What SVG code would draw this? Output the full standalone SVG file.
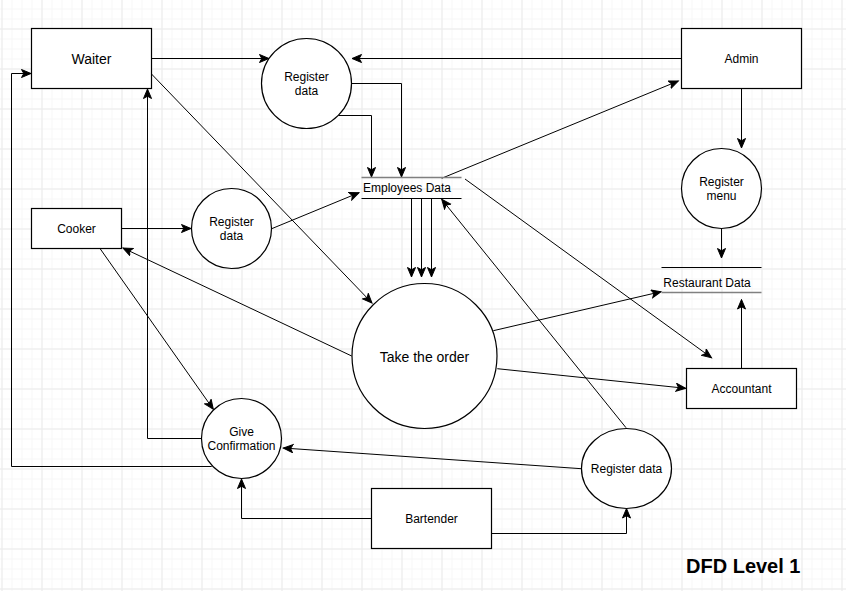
<svg xmlns="http://www.w3.org/2000/svg" width="846" height="591" viewBox="0 0 846 591">
<defs>
<pattern id="minor" x="1.5" y="8.5" width="10" height="10" patternUnits="userSpaceOnUse"><path d="M10 0.5 H0.5 V10" fill="none" stroke="#f6f6f6" stroke-width="1"/></pattern>
<pattern id="major" x="1.5" y="28.5" width="40" height="40" patternUnits="userSpaceOnUse"><path d="M40 0.5 H0.5 V40" fill="none" stroke="#ebebeb" stroke-width="1"/></pattern>
<marker id="arr" markerWidth="12" markerHeight="10" refX="10" refY="4.5" orient="auto" markerUnits="userSpaceOnUse"><path d="M0.5,0.5 L10,4.5 L0.5,8.5 L2.8,4.5 Z" fill="#000" stroke="#000" stroke-width="1" stroke-linejoin="miter"/></marker>
<style>
.ln{fill:none;stroke:#000;stroke-width:1;marker-end:url(#arr)}
.nd{fill:#fff;stroke:#000;stroke-width:1.2}
.t{font-family:"Liberation Sans",Arial,sans-serif;font-size:12px;fill:#000;text-anchor:middle}
.big{font-size:14px}
.st{stroke:#000;stroke-width:1}
.sg{stroke:#808080;stroke-width:1.6}
</style>
</defs>
<rect width="846" height="591" fill="#fff"/>
<rect width="846" height="591" fill="url(#minor)"/>
<rect width="846" height="591" fill="url(#major)"/>

<g id="connectors">
<path class="ln" d="M151.5,58.5 H269"/>
<path class="ln" d="M681.5,58.5 H352"/>
<path class="ln" d="M351.5,83.5 H401.5 V177"/>
<path class="ln" d="M338.5,115.5 H371.5 V177"/>
<path class="ln" d="M121.5,228.5 H191"/>
<path class="ln" d="M271.7,228.7 L359,192.7"/>
<path class="ln" d="M151.5,74 L372,303"/>
<path class="ln" d="M411.5,198.5 V277"/>
<path class="ln" d="M421.5,198.5 V277"/>
<path class="ln" d="M431.5,198.5 V277"/>
<path class="ln" d="M351.7,356 L123,248"/>
<path class="ln" d="M100,248.5 L213.3,409.3"/>
<path class="ln" d="M201.7,438.5 H147.5 V89"/>
<path class="ln" d="M211.7,466.5 H11.5 V73.5 H31"/>
<path class="ln" d="M371.5,518.5 H241.5 V479"/>
<path class="ln" d="M491.5,533.5 H626.5 V508.5"/>
<path class="ln" d="M581.3,468.7 L283.3,448"/>
<path class="ln" d="M626,427.7 L441.7,199.3"/>
<path class="ln" d="M441.7,178.3 L678.3,81"/>
<path class="ln" d="M465,179 L711.5,357.7"/>
<path class="ln" d="M493.3,330.7 L661,291.7"/>
<path class="ln" d="M497.3,368.7 L685.7,388.3"/>
<path class="ln" d="M741.5,368.5 V299.5"/>
<path class="ln" d="M741.5,88.5 V148"/>
<path class="ln" d="M721.5,228.5 V258"/>
</g>

<g id="waiter"><rect class="nd" x="31.5" y="28.5" width="120" height="60"/><text class="t big" x="91.5" y="63.5">Waiter</text></g>
<g id="register-data-top"><circle class="nd" cx="306.5" cy="83.5" r="45"/><text class="t" x="306.5" y="81">Register</text><text class="t" x="306.5" y="95">data</text></g>
<g id="admin"><rect class="nd" x="681.5" y="28.5" width="120" height="60"/><text class="t" x="741.5" y="62.5">Admin</text></g>
<g id="cooker"><rect class="nd" x="31.5" y="208.5" width="90" height="40"/><text class="t" x="76.5" y="232.5">Cooker</text></g>
<g id="register-data-mid"><circle class="nd" cx="231.5" cy="228.5" r="40"/><text class="t" x="231.5" y="225.7">Register</text><text class="t" x="231.5" y="239.7">data</text></g>
<g id="employees-data"><line class="sg" x1="361.5" y1="177.5" x2="461.5" y2="177.5"/><line class="st" x1="361.5" y1="198.5" x2="461.5" y2="198.5"/><text class="t" x="363" y="191.5" style="text-anchor:start">Employees Data</text></g>
<g id="register-menu"><circle class="nd" cx="721.5" cy="188.5" r="40"/><text class="t" x="721.5" y="185.7">Register</text><text class="t" x="721.5" y="199.7">menu</text></g>
<g id="restaurant-data"><line class="st" x1="661.5" y1="267.5" x2="761.5" y2="267.5"/><line class="sg" x1="661.5" y1="292.5" x2="761.5" y2="292.5"/><text class="t" x="663.3" y="286.5" style="text-anchor:start">Restaurant Data</text></g>
<g id="take-order"><circle class="nd" cx="424.5" cy="356" r="72.5"/><text class="t big" x="424.5" y="362">Take the order</text></g>
<g id="accountant"><rect class="nd" x="686.5" y="368.5" width="110" height="40"/><text class="t" x="741.5" y="392.5">Accountant</text></g>
<g id="give-confirmation"><circle class="nd" cx="241.5" cy="438.5" r="40"/><text class="t" x="241.5" y="435.7">Give</text><text class="t" x="241.5" y="449.7">Confirmation</text></g>
<g id="register-data-bottom"><ellipse class="nd" cx="626.5" cy="468.5" rx="45" ry="40"/><text class="t" x="626.5" y="472.7">Register data</text></g>
<g id="bartender"><rect class="nd" x="371.5" y="488.5" width="120" height="60"/><text class="t" x="431.5" y="522.5">Bartender</text></g>
<text x="686" y="573.3" style="font-family:'Liberation Sans',Arial,sans-serif;font-size:20px;font-weight:bold;fill:#000">DFD Level 1</text>
</svg>
